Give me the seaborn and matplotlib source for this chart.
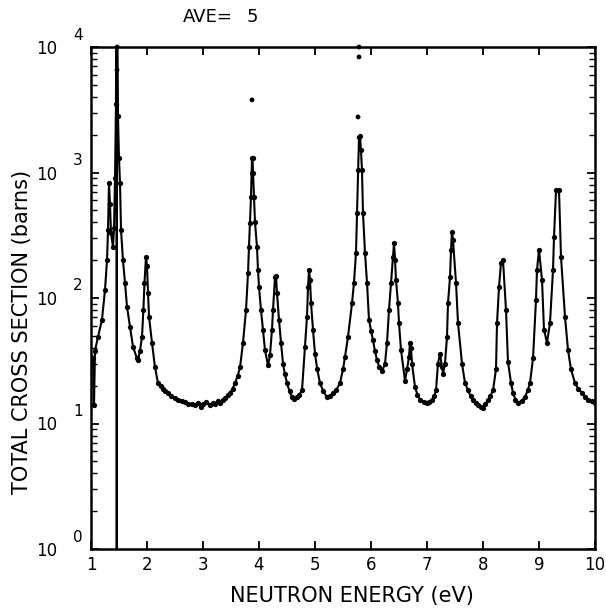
import numpy as np
import pandas as pd
import matplotlib
matplotlib.use("Agg")
import matplotlib.pyplot as plt
import matplotlib.transforms as mtransforms
import seaborn as sns

# ---- data ----
energy = [1.000, 1.036, 1.054, 1.071, 1.125, 1.196, 1.250, 1.286, 1.304, 1.321,
          1.339, 1.357, 1.393, 1.411, 1.429, 1.446, 1.455, 1.460, 1.465, 1.482,
          1.500, 1.518, 1.536, 1.571, 1.607, 1.643, 1.696, 1.750, 1.821, 1.839,
          1.875, 1.911, 1.935, 1.955, 1.982, 2.000, 2.018, 2.036, 2.089, 2.143,
          2.196, 2.250, 2.286, 2.330, 2.375, 2.430, 2.500, 2.560, 2.620, 2.679,
          2.740, 2.800, 2.850, 2.911, 2.960, 3.000, 3.060, 3.125, 3.170, 3.214,
          3.260, 3.304, 3.350, 3.400, 3.440, 3.482, 3.530, 3.571, 3.620, 3.661,
          3.714, 3.768, 3.804, 3.821, 3.839,
          3.857, 3.868, 3.875, 3.885, 3.893, 3.911, 3.929, 3.964, 3.982, 4.000,
          4.036, 4.071, 4.107, 4.161, 4.196, 4.232, 4.250, 4.286, 4.304, 4.321,
          4.357, 4.393, 4.429, 4.460, 4.500, 4.545, 4.589, 4.630, 4.679, 4.720,
          4.768, 4.821, 4.857, 4.875,
          4.893, 4.911, 4.929, 4.964, 5.000, 5.040, 5.089, 5.150, 5.214, 5.270,
          5.321, 5.380, 5.446, 5.500, 5.536,
          5.589, 5.661, 5.696, 5.732, 5.750, 5.768, 5.786, 5.804, 5.821, 5.839,
          5.857, 5.893, 5.929, 5.964, 6.000, 6.036, 6.070, 6.107, 6.150, 6.196,
          6.250, 6.286, 6.321,
          6.357, 6.393, 6.411, 6.430, 6.446, 6.482, 6.500, 6.536, 6.607, 6.643,
          6.679, 6.696, 6.714, 6.732, 6.786, 6.830, 6.875, 6.940, 7.000, 7.040,
          7.089, 7.130, 7.161, 7.196,
          7.232, 7.268, 7.286, 7.321, 7.357, 7.375, 7.411, 7.429, 7.446, 7.464,
          7.518, 7.554, 7.625, 7.679, 7.732, 7.780, 7.821, 7.870, 7.911, 7.960,
          8.000, 8.040, 8.089, 8.130, 8.179,
          8.232, 8.250, 8.286, 8.321, 8.357, 8.411, 8.446, 8.500, 8.536, 8.580,
          8.625, 8.690, 8.750, 8.800, 8.839, 8.893, 8.946, 8.964, 9.000, 9.054,
          9.089, 9.143, 9.196,
          9.250, 9.268, 9.304, 9.357, 9.393, 9.464, 9.518, 9.571, 9.643, 9.700,
          9.768, 9.820, 9.875, 9.940, 10.000]
sigma = [34, 33, 14, 38, 49, 67, 116, 200, 347, 824,
         560, 330, 255, 360, 900, 3500, 30000, 0.3, 30000, 2800,
         1300, 824, 347, 200, 132, 85, 59, 41, 33, 32,
         38, 49, 80, 132, 212, 180, 110, 71, 44, 28,
         21, 20, 19, 18, 17.5, 16.5, 16, 15.5, 15, 14.8,
         14.2, 14.4, 14.0, 14.6, 13.6, 14.2, 14.8, 14.0, 14.6, 14.3,
         15.2, 14.6, 15.5, 16, 16.8, 17.5, 19, 21, 24, 28,
         44, 80, 158, 255, 394,
         638, 1000, 1305, 1300, 1000, 638, 400, 255, 167, 122,
         80, 56, 38.5, 29, 35, 56, 80, 147, 150, 110,
         67, 44, 30, 25, 21, 18, 16.2, 15.8, 16.2, 17,
         18.4, 41, 71, 122,
         167, 140, 91, 56, 36, 27, 21, 18, 16.2, 16.6,
         17.5, 18.5, 21, 27, 34,
         49, 91, 132, 229, 475, 1050, 1920, 1950, 1500, 1050,
         475, 229, 132, 67, 55, 46, 38, 32, 28, 26,
         30, 44, 80,
         132, 212, 274, 200, 139, 91, 63, 38.5, 22, 27,
         34, 44, 40, 30, 19.5, 17, 15.4, 14.8, 14.6, 14.8,
         15.4, 16.5, 18.4, 30,
         36, 28, 25, 30, 49, 91, 147, 242, 336, 290,
         132, 63, 30, 21, 18.4, 16.5, 15.4, 14.5, 14, 13.6,
         13.3, 14.2, 15.4, 16.5, 18.4,
         27, 63, 122, 190, 200, 80, 31, 21, 17.5, 15.5,
         14.6, 15.2, 16.2, 18.5, 21, 33, 96, 167, 242, 139,
         56, 44, 63,
         167, 306, 725, 725, 212, 71, 38.5, 27, 21, 19,
         17.5, 16.3, 15.4, 15.0, 14.6]

# isolated points above the curve
extra_energy = [1.464, 1.468, 3.875, 5.768, 5.786, 5.786]
extra_sigma = [6560, 10000, 3790, 2770, 8330, 10000]

x_ticks = [1, 2, 3, 4, 5, 6, 7, 8, 9, 10]
y_exponents = [0, 1, 2, 3, 4]

df = pd.DataFrame({"E": energy, "S": sigma})
dfx = pd.DataFrame({"E": extra_energy, "S": extra_sigma})

sns.set_style("white")
plt.rcParams["font.family"] = ["DejaVu Sans"]
plt.rcParams["text.color"] = "black"
plt.rcParams["xtick.color"] = "black"
plt.rcParams["ytick.color"] = "black"

fig = plt.figure(figsize=(6.06, 6.11), dpi=100)
ax = fig.add_axes([91/606, 1-549/611, 504/606, 502/611])

sns.lineplot(data=df, x="E", y="S", ax=ax, color="black", linewidth=1.5,
             marker="o", markersize=3.8, markeredgewidth=0, estimator=None,
             sort=False)
sns.scatterplot(data=dfx, x="E", y="S", ax=ax, color="black", s=12,
                edgecolor="none", clip_on=False, zorder=5)

ax.set_yscale("log")
ax.set_xlim(1, 10)
ax.set_ylim(1, 1e4)
ax.set_xlabel("")
ax.set_ylabel("")

ax.set_xticks(x_ticks)
ax.set_xticklabels([str(t) for t in x_ticks], fontsize=12, color="black")
ax.set_yticks([10.0**k for k in y_exponents])
ax.set_yticklabels(["10"] * len(y_exponents), fontsize=12, color="black")
ax.yaxis.set_minor_locator(matplotlib.ticker.LogLocator(base=10, subs=np.arange(2, 10)))
ax.yaxis.set_minor_formatter(matplotlib.ticker.NullFormatter())
ax.xaxis.set_minor_locator(matplotlib.ticker.NullLocator())

ax.tick_params(axis="both", which="major", direction="in", length=6, width=1.3,
               top=True, right=True, bottom=True, left=True, color="black")
ax.tick_params(axis="y", which="minor", direction="in", length=4, width=1.0,
               left=True, right=True, color="black")
ax.tick_params(axis="x", which="major", pad=5)
ax.tick_params(axis="y", which="major", pad=24)

for sp in ax.spines.values():
    sp.set_visible(True)
    sp.set_linewidth(1.8)
    sp.set_color("black")

trans = mtransforms.blended_transform_factory(ax.transAxes, ax.transData)
for k in y_exponents:
    t = ax.text(-0.026, 10.0**k, str(k), fontsize=11, color="black",
                ha="center", va="center")
    t.set_transform(trans + mtransforms.ScaledTranslation(0, 12/100, fig.dpi_scale_trans))
    t.set_clip_on(False)

fig.text(352/606, 1-596/611, "NEUTRON ENERGY (eV)", fontsize=15,
         ha="center", va="center", color="black")
fig.text(22/606, 1-332/611, "TOTAL CROSS SECTION (barns)", fontsize=15,
         ha="center", va="center", rotation=90, color="black")
fig.text(183/606, 1-17/611, "AVE=", fontsize=13, ha="left", va="center",
         color="black")
fig.text(252/606, 1-17/611, "5", fontsize=13, ha="center", va="center",
         color="black")

fig.savefig("out.png", dpi=100)
